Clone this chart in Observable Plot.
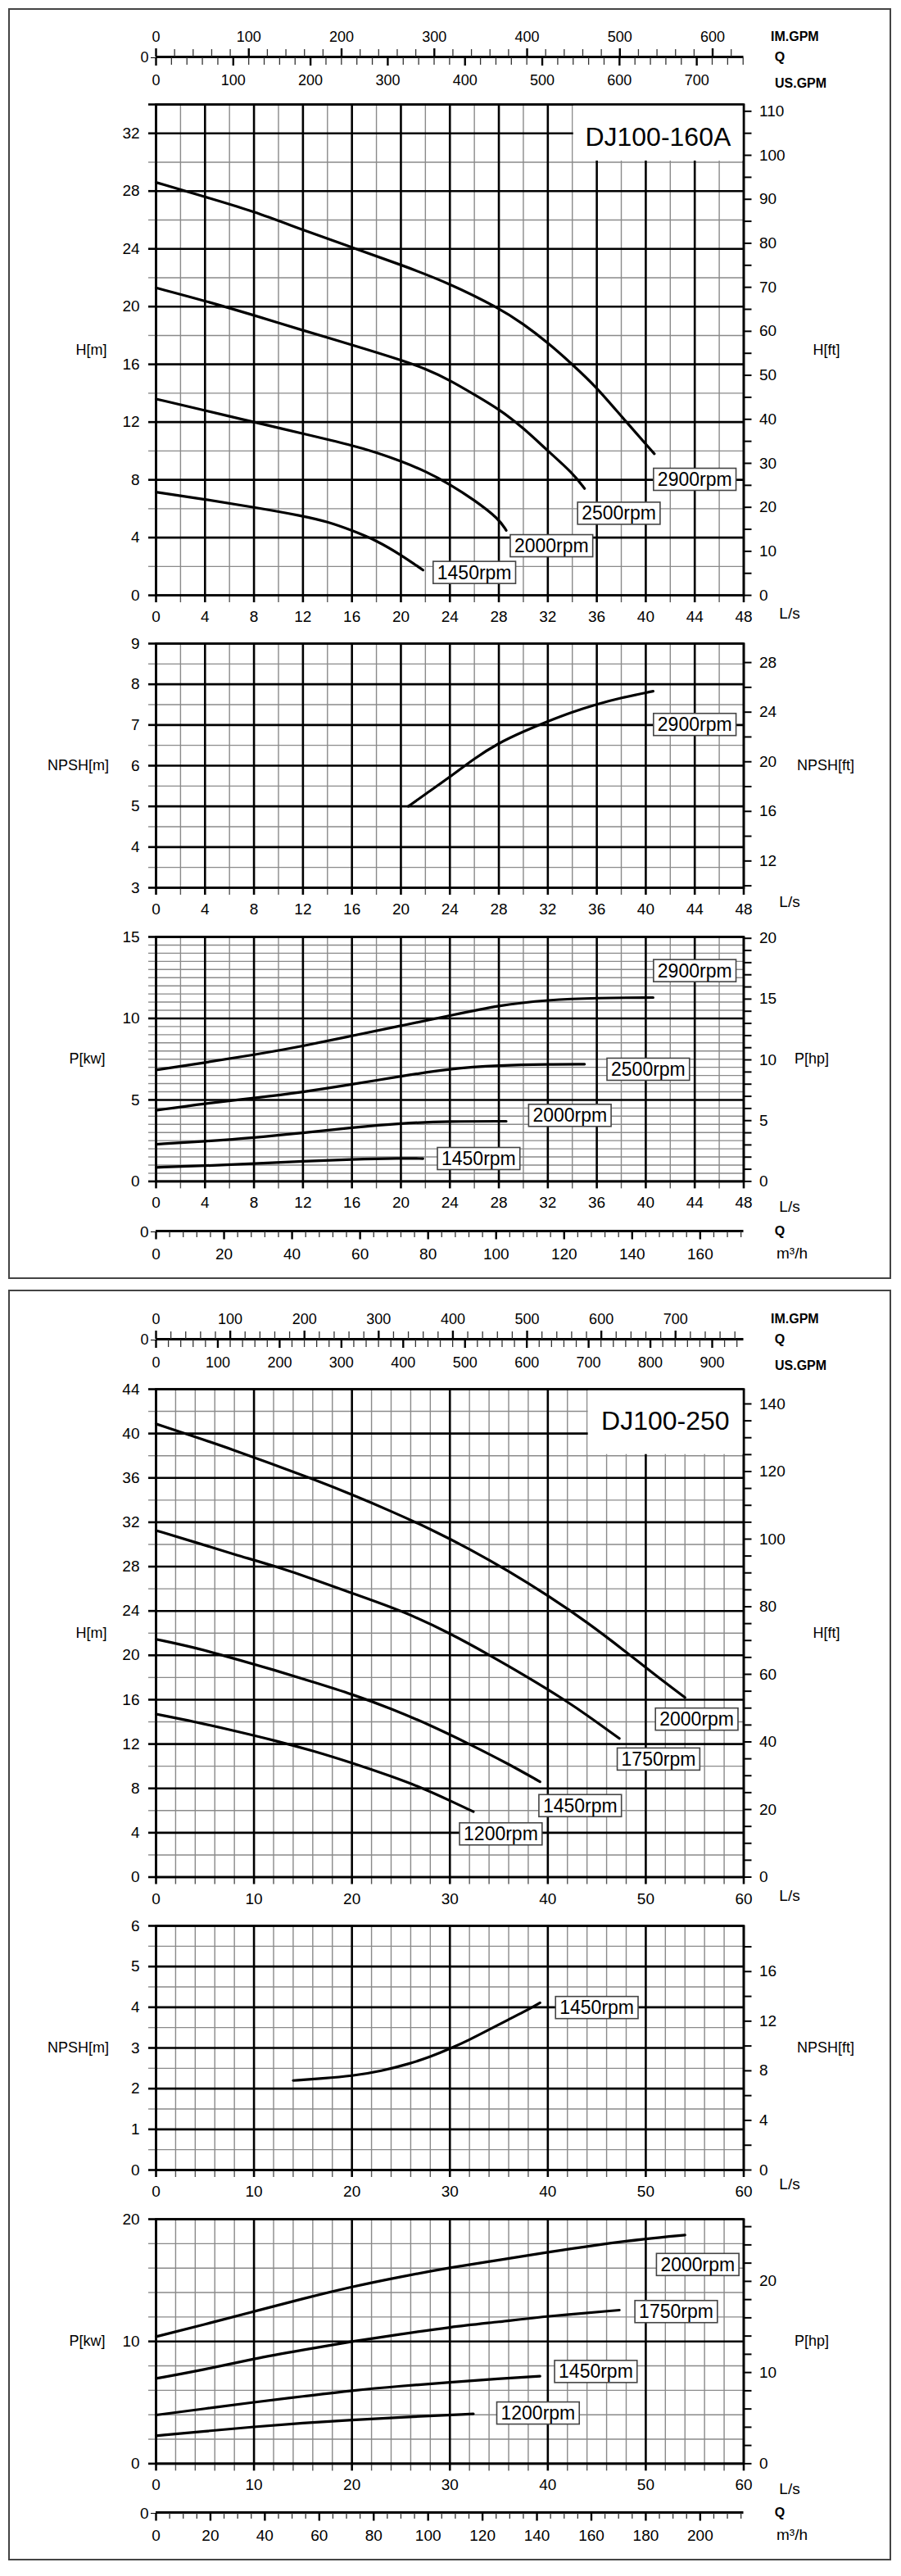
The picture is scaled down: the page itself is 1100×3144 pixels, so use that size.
<!DOCTYPE html>
<html><head><meta charset="utf-8">
<script src="https://cdn.jsdelivr.net/npm/d3@7"></script>
<script src="https://cdn.jsdelivr.net/npm/@observablehq/plot@0.6"></script>
<style>
html,body{margin:0;padding:0;background:#fff;}
#root{position:relative;width:1100px;height:3144px;overflow:hidden;background:#fff;}
.panel{position:absolute;border:2px solid #444;box-sizing:border-box;}
#root > svg{position:absolute;left:0;}
</style></head><body><div id="root"></div>
<script>
// ================= DATA : DJ100-160A =================
const A_title = "DJ100-160A";
const A_speeds = ["2900rpm", "2500rpm", "2000rpm", "1450rpm"];
// Head H[m] vs Q[L/s]
const A_head_2900 = [[0,28.6],[4,27.6],[8,26.6],[12,25.3],[16,24.1],[20,22.9],[24,21.6],[28,19.9],[30,18.8],[32,17.5],[34,16.0],[36,14.4],[38,12.4],[40.7,9.8]];
const A_head_2500 = [[0,21.3],[4,20.4],[8,19.4],[12,18.35],[16,17.35],[20,16.3],[22,15.7],[24,14.9],[26,13.9],[28,12.9],[30,11.6],[32,10.0],[34,8.5],[35,7.4]];
const A_head_2000 = [[0,13.6],[4,12.8],[8,12.0],[12,11.2],[16,10.4],[18,9.9],[20,9.3],[22,8.6],[24,7.7],[26,6.6],[28,5.3],[28.6,4.5]];
const A_head_1450 = [[0,7.15],[4,6.65],[8,6.1],[12,5.5],[14,5.1],[16,4.5],[18,3.8],[20,2.8],[21.8,1.75]];
// NPSH[m]
const A_npsh_2900 = [[20.6,5.0],[22,5.3],[24,5.72],[26,6.18],[28,6.56],[30,6.84],[32,7.09],[34,7.32],[36,7.51],[38,7.67],[40.6,7.83]];
// Power P[kW]
const A_pow_2900 = [[0,6.84],[4,7.29],[8,7.76],[12,8.30],[16,8.93],[20,9.55],[24,10.17],[28,10.81],[32,11.14],[36,11.26],[40.6,11.28]];
const A_pow_2500 = [[0,4.36],[4,4.78],[8,5.11],[12,5.48],[16,5.95],[20,6.45],[24,6.92],[28,7.12],[32,7.19],[35,7.19]];
const A_pow_2000 = [[0,2.28],[4,2.46],[8,2.68],[12,2.97],[16,3.30],[20,3.57],[24,3.69],[28.6,3.69]];
const A_pow_1450 = [[0,0.86],[4,0.96],[8,1.09],[12,1.24],[16,1.36],[20,1.42],[21.8,1.40]];
// ticks
const A_flowGrid = d3.range(0, 48.001, 2), A_flowLabels = d3.range(0, 48.001, 4);
const A_headGrid = d3.range(0, 34.001, 2), A_headLabels = d3.range(0, 32.001, 4);
const A_headFt = d3.range(0, 110.001, 5), A_headFtLabels = d3.range(0, 110.001, 10);
const A_npshGrid = d3.range(3, 9.001, 0.5), A_npshLabels = d3.range(3, 9.001, 1);
const A_npshFt = d3.range(10, 28.001, 2), A_npshFtLabels = [12, 16, 20, 24, 28];
const A_powGrid = d3.range(0, 15.001, 0.5), A_powLabels = [0, 5, 10, 15];
const A_powHp = d3.range(0, 20.001, 1), A_powHpLabels = [0, 5, 10, 15, 20];
const A_imgpm = d3.range(0, 633, 20), A_imgpmLabels = d3.range(0, 601, 100);
const A_usgpm = d3.range(0, 761, 20), A_usgpmLabels = d3.range(0, 701, 100);
const A_m3h = d3.range(0, 173, 4), A_m3hLabels = d3.range(0, 161, 20);

// ================= DATA : DJ100-250 =================
const B_title = "DJ100-250";
const B_speeds = ["2000rpm", "1750rpm", "1450rpm", "1200rpm"];
const B_head_2000 = [[0,40.87],[4,39.7],[8,38.5],[12,37.2],[16,35.9],[20,34.5],[24,33.0],[28,31.4],[32,29.6],[36,27.6],[40,25.4],[44,23.0],[48,20.3],[51,18.2],[54,16.2]];
const B_head_1750 = [[0,31.26],[4,30.2],[8,29.1],[12.3,28.0],[16,26.9],[20,25.6],[25.2,24.0],[30,22.0],[34.1,20.0],[38,18.0],[41.7,16.0],[44.5,14.3],[47.3,12.5]];
const B_head_1450 = [[0,21.45],[4,20.7],[8,19.7],[12,18.7],[16,17.6],[20,16.5],[24,15.2],[28,13.7],[32,12.0],[36,10.2],[39.2,8.6]];
const B_head_1200 = [[0,14.7],[4,14.0],[8,13.2],[12,12.35],[16,11.4],[20,10.3],[24,9.1],[27.3,8.0],[30,6.9],[32.4,5.9]];
const B_npsh_1450 = [[14,2.2],[17,2.25],[20,2.31],[23,2.43],[26,2.62],[28,2.78],[30,2.98],[32,3.2],[34,3.45],[36,3.7],[37.5,3.88],[39.2,4.11]];
const B_pow_2000 = [[0,10.39],[5,11.4],[10,12.45],[15,13.5],[20,14.48],[25,15.3],[30,16.04],[35,16.65],[40,17.3],[45,17.9],[50,18.4],[54,18.7]];
const B_pow_1750 = [[0,6.97],[5,7.7],[10,8.6],[15,9.3],[20,10.0],[25,10.6],[30,11.17],[35,11.6],[40,12.07],[47.3,12.56]];
const B_pow_1450 = [[0,3.98],[5,4.5],[10,5.03],[15,5.5],[20,5.99],[25,6.35],[30,6.66],[35,6.95],[39.2,7.15]];
const B_pow_1200 = [[0,2.28],[5,2.65],[10,3.02],[15,3.32],[20,3.58],[25,3.8],[32.4,4.07]];
const B_flowGrid = d3.range(0, 60.001, 2), B_flowLabels = d3.range(0, 60.001, 10);
const B_headGrid = d3.range(0, 44.001, 2), B_headLabels = d3.range(0, 44.001, 4);
const B_headFt = d3.range(0, 140.001, 5), B_headFtLabels = d3.range(0, 140.001, 20);
const B_npshGrid = d3.range(0, 6.001, 0.5), B_npshLabels = d3.range(0, 6.001, 1);
const B_npshFt = d3.range(0, 18.001, 2), B_npshFtLabels = [0, 4, 8, 12, 16];
const B_powGrid = d3.range(0, 20.001, 2), B_powLabels = [0, 10, 20];
const B_powHp = d3.range(0, 26.001, 2), B_powHpLabels = [0, 10, 20];
const B_imgpm = d3.range(0, 791, 20), B_imgpmLabels = d3.range(0, 701, 100);
const B_usgpm = d3.range(0, 951, 20), B_usgpmLabels = d3.range(0, 901, 100);
const B_m3h = d3.range(0, 216, 5), B_m3hLabels = d3.range(0, 201, 20);

// unit conversions
const LPS_PER_IMGPM = 0.0757682, LPS_PER_USGPM = 0.0630902, M_PER_FT = 0.3048, KW_PER_HP = 0.7457, M3H_PER_LPS = 3.6;

// ================= LAYOUT / STYLE =================
const W = 1100, X0 = 190, X1 = 907.5;
const FONT = "'Liberation Sans', Arial, Helvetica, sans-serif";
const THIN = {stroke: "#8a8a8a", strokeOpacity: 1, strokeWidth: 1.4};
const THICK = {stroke: "#000", strokeOpacity: 1, strokeWidth: 2.6};
const root = document.getElementById("root");
const baseStyle = {fontFamily: FONT, fontSize: "19px", background: "transparent", color: "#000", overflow: "visible"};

[[10, 1551], [1574, 1551]].forEach(([t, h]) => {
  const d = document.createElement("div");
  d.className = "panel";
  Object.assign(d.style, {left: "10px", top: t + "px", width: "1078px", height: h + "px"});
  root.append(d);
});

function boxLabels(svg) {
  svg.querySelectorAll("text").forEach(t => {
    if (!/rpm$/.test(t.textContent)) return;
    const bb = t.getBBox();
    const r = document.createElementNS("http://www.w3.org/2000/svg", "rect");
    r.setAttribute("x", bb.x - 5); r.setAttribute("y", bb.y - 0.5);
    r.setAttribute("width", bb.width + 10); r.setAttribute("height", bb.height + 1);
    r.setAttribute("fill", "#fff"); r.setAttribute("stroke", "#444"); r.setAttribute("stroke-width", 1.6);
    if (t.getAttribute("transform")) r.setAttribute("transform", t.getAttribute("transform"));
    t.parentNode.insertBefore(r, t);
  });
}

function pumpChart(c) {
  const mt = 30, mb = 46;
  const yThick = c.yGrid.filter(v => c.yLabels.includes(v) || v === c.yDom[0] || v === c.yDom[1]);
  const yThin = c.yGrid.filter(v => !yThick.includes(v));
  const xThick = c.xGrid.filter(v => c.xLabels.includes(v));
  const xThin = c.xGrid.filter(v => !xThick.includes(v));
  const fmtY = d => c.yLabels.includes(d) ? String(d) : "";
  const fmtX = d => c.xLabels.includes(d) ? String(d) : "";
  const marks = [
    Plot.gridX(xThin, THIN), Plot.gridY(yThin, THIN),
    Plot.gridX(xThick, THICK), Plot.gridY(yThick, THICK)
  ];
  if (c.box) marks.push(Plot.rect([c.box], {x1: d => d.x1, x2: d => d.x2, y1: d => d.y1, y2: d => d.y2, fill: "#fff", insetLeft: 1.5, insetBottom: 1.5}));
  marks.push(
    Plot.axisY(yThin, {anchor: "left", tickSize: 9, tickPadding: 11, stroke: "#8a8a8a", strokeWidth: 1.4, tickFormat: () => "", label: null}),
    Plot.axisY(yThick, {anchor: "left", tickSize: 9, tickPadding: 11, strokeWidth: 2.6, tickFormat: fmtY, label: null}),
    Plot.axisX(xThin, {anchor: "bottom", tickSize: 9, tickPadding: 10, stroke: "#555", strokeWidth: 1.4, tickFormat: () => "", label: null}),
    Plot.axisX(xThick, {anchor: "bottom", tickSize: 9, tickPadding: 10, strokeWidth: 2.6, tickFormat: fmtX, label: null}),
    Plot.axisY(c.rTicks.map(v => v * c.rUnit), {anchor: "right", tickSize: 9, tickPadding: 10, strokeWidth: 2,
      tickFormat: d => { const v = Math.round(d / c.rUnit * 1000) / 1000; return c.rLabels.includes(v) ? String(v) : ""; }, label: null}),
    Plot.frame({stroke: "#000", strokeWidth: 2.6}),
    ...c.curves.map(pts => Plot.line(pts, {x: d => d[0], y: d => d[1], curve: "basis", stroke: "#000", strokeWidth: 3.2})),
    Plot.text(c.labels, {x: d => d.x, y: d => d.y, text: d => d.text, fontSize: 23, fill: "#000"}),
    Plot.text([c.nameL], {frameAnchor: "left", textAnchor: "middle", lineAnchor: "middle", dx: c.dxL, text: d => d, fontSize: 18}),
    Plot.text([c.nameR], {frameAnchor: "right", textAnchor: "middle", lineAnchor: "middle", dx: c.dxR, text: d => d, fontSize: 18}),
    Plot.text(["L/s"], {frameAnchor: "bottom-right", textAnchor: "middle", lineAnchor: "middle", dx: 56, dy: c.lsDy, text: d => d, fontSize: 19})
  );
  if (c.title) marks.push(Plot.text([c.title], {x: d => d.x, y: d => d.y, text: d => d.text, fontSize: 32, fill: "#000"}));
  const svg = Plot.plot({
    width: W, height: (c.bottom - c.top) + mt + mb,
    marginLeft: X0, marginRight: W - X1, marginTop: mt, marginBottom: mb,
    x: {domain: [0, c.xMax]}, y: {domain: c.yDom},
    style: baseStyle, marks
  });
  svg.style.top = (c.top - mt) + "px";
  root.append(svg);
  boxLabels(svg);
}

function flowTop(c) {
  const mt = 40, mb = 44;
  const im = c.im.filter(v => !c.imL.includes(v)), us = c.us.filter(v => !c.usL.includes(v));
  const svg = Plot.plot({
    width: W, height: mt + 2 + mb, marginLeft: X0, marginRight: W - X1, marginTop: mt, marginBottom: mb,
    x: {domain: [0, c.xMax]}, y: {domain: [0, 1]}, style: {...baseStyle, fontSize: "18px"},
    marks: [
      Plot.ruleY([0.5], {stroke: "#000", strokeWidth: 3}),
      Plot.axisX(im.map(v => v * LPS_PER_IMGPM), {anchor: "top", tickSize: 9, stroke: "#333", strokeWidth: 1.3, tickFormat: () => "", label: null}),
      Plot.axisX(c.imL.map(v => v * LPS_PER_IMGPM), {anchor: "top", tickSize: 10, tickPadding: 8, strokeWidth: 2.4, tickFormat: d => String(Math.round(d / LPS_PER_IMGPM)), label: null}),
      Plot.axisX(us.map(v => v * LPS_PER_USGPM), {anchor: "bottom", tickSize: 9, stroke: "#333", strokeWidth: 1.3, tickFormat: () => "", label: null}),
      Plot.axisX(c.usL.map(v => v * LPS_PER_USGPM), {anchor: "bottom", tickSize: 10, tickPadding: 11, strokeWidth: 2.4, tickFormat: d => String(Math.round(d / LPS_PER_USGPM)), label: null}),
      Plot.text(["IM.GPM"], {frameAnchor: "top-right", textAnchor: "start", lineAnchor: "middle", dx: 33, dy: -24, text: d => d, fontSize: 16, fontWeight: "bold"}),
      Plot.text(["Q"], {frameAnchor: "right", textAnchor: "middle", lineAnchor: "middle", dx: 44, text: d => d, fontSize: 16, fontWeight: "bold"}),
      Plot.text(["US.GPM"], {frameAnchor: "bottom-right", textAnchor: "start", lineAnchor: "middle", dx: 38, dy: 31, text: d => d, fontSize: 16, fontWeight: "bold"})
    ]
  });
  svg.style.top = (c.lineY - mt - 1) + "px";
  root.append(svg);
}

function flowBottom(c) {
  const mt = 20, mb = 46;
  const minor = c.m3h.filter(v => !c.m3hL.includes(v));
  const svg = Plot.plot({
    width: W, height: mt + 2 + mb, marginLeft: X0, marginRight: W - X1, marginTop: mt, marginBottom: mb,
    x: {domain: [0, c.xMax]}, y: {domain: [0, 1]}, style: baseStyle,
    marks: [
      Plot.ruleY([0.5], {stroke: "#000", strokeWidth: 3}),
      Plot.axisX(minor.map(v => v / M3H_PER_LPS), {anchor: "bottom", tickSize: 7, stroke: "#333", strokeWidth: 1.3, tickFormat: () => "", label: null}),
      Plot.axisX(c.m3hL.map(v => v / M3H_PER_LPS), {anchor: "bottom", tickSize: 9.5, tickPadding: 10, strokeWidth: 2.4, tickFormat: d => String(Math.round(d * M3H_PER_LPS)), label: null}),
      Plot.text(["Q"], {frameAnchor: "right", textAnchor: "middle", lineAnchor: "middle", dx: 44, text: d => d, fontSize: 16, fontWeight: "bold"}),
      Plot.text(["m³/h"], {frameAnchor: "bottom-right", textAnchor: "middle", lineAnchor: "middle", dx: 59, dy: 26, text: d => d, fontSize: 19})
    ]
  });
  svg.style.top = (c.lineY - mt - 1) + "px";
  root.append(svg);
}

const lab = (speeds, pos) => speeds.map((s, i) => pos[i] ? {text: s, x: pos[i][0], y: pos[i][1]} : null).filter(Boolean);

// ---------- Panel A ----------
flowTop({lineY: 69.3, xMax: 48, im: A_imgpm, imL: A_imgpmLabels, us: A_usgpm, usL: A_usgpmLabels});
pumpChart({top: 127.3, bottom: 726.4, xMax: 48, xGrid: A_flowGrid, xLabels: A_flowLabels,
  yDom: [0, 34], yGrid: A_headGrid, yLabels: A_headLabels, rTicks: A_headFt, rLabels: A_headFtLabels, rUnit: M_PER_FT,
  curves: [A_head_2900, A_head_2500, A_head_2000, A_head_1450],
  labels: lab(A_speeds, [[44, 8.0], [37.8, 5.65], [32.3, 3.4], [26.0, 1.55]]),
  title: {text: A_title, x: 41, y: 31.7}, box: {x1: 34, x2: 48, y1: 30, y2: 34},
  nameL: "H[m]", nameR: "H[ft]", dxL: -79, dxR: 101, lsDy: 22});
pumpChart({top: 785.3, bottom: 1083.3, xMax: 48, xGrid: A_flowGrid, xLabels: A_flowLabels,
  yDom: [3, 9], yGrid: A_npshGrid, yLabels: A_npshLabels, rTicks: A_npshFt, rLabels: A_npshFtLabels, rUnit: M_PER_FT,
  curves: [A_npsh_2900], labels: lab(A_speeds, [[44, 7.0]]),
  nameL: "NPSH[m]", nameR: "NPSH[ft]", dxL: -95, dxR: 100, lsDy: 17});
pumpChart({top: 1143.3, bottom: 1441.7, xMax: 48, xGrid: A_flowGrid, xLabels: A_flowLabels,
  yDom: [0, 15], yGrid: A_powGrid, yLabels: A_powLabels, rTicks: A_powHp, rLabels: A_powHpLabels, rUnit: KW_PER_HP,
  curves: [A_pow_2900, A_pow_2500, A_pow_2000, A_pow_1450],
  labels: lab(A_speeds, [[44, 12.9], [40.2, 6.85], [33.8, 4.02], [26.35, 1.37]]),
  nameL: "P[kw]", nameR: "P[hp]", dxL: -84, dxR: 83, lsDy: 31});
flowBottom({lineY: 1501.7, xMax: 48, m3h: A_m3h, m3hL: A_m3hLabels});

// ---------- Panel B ----------
flowTop({lineY: 1634.3, xMax: 60, im: B_imgpm, imL: B_imgpmLabels, us: B_usgpm, usL: B_usgpmLabels});
pumpChart({top: 1694.5, bottom: 2290, xMax: 60, xGrid: B_flowGrid, xLabels: B_flowLabels,
  yDom: [0, 44], yGrid: B_headGrid, yLabels: B_headLabels, rTicks: B_headFt, rLabels: B_headFtLabels, rUnit: M_PER_FT,
  curves: [B_head_2000, B_head_1750, B_head_1450, B_head_1200],
  labels: lab(B_speeds, [[55.2, 14.2], [51.3, 10.6], [43.3, 6.4], [35.2, 3.85]]),
  title: {text: B_title, x: 52, y: 41.1}, box: {x1: 44, x2: 60, y1: 38, y2: 44},
  nameL: "H[m]", nameR: "H[ft]", dxL: -79, dxR: 101, lsDy: 23});
pumpChart({top: 2350, bottom: 2648, xMax: 60, xGrid: B_flowGrid, xLabels: B_flowLabels,
  yDom: [0, 6], yGrid: B_npshGrid, yLabels: B_npshLabels, rTicks: B_npshFt, rLabels: B_npshFtLabels, rUnit: M_PER_FT,
  curves: [B_npsh_1450], labels: lab(["1450rpm"], [[45.0, 3.98]]),
  nameL: "NPSH[m]", nameR: "NPSH[ft]", dxL: -95, dxR: 100, lsDy: 17});
pumpChart({top: 2708.3, bottom: 3006.7, xMax: 60, xGrid: B_flowGrid, xLabels: B_flowLabels,
  yDom: [0, 20], yGrid: B_powGrid, yLabels: B_powLabels, rTicks: B_powHp, rLabels: B_powHpLabels, rUnit: KW_PER_HP,
  curves: [B_pow_2000, B_pow_1750, B_pow_1450, B_pow_1200],
  labels: lab(B_speeds, [[55.3, 16.25], [53.1, 12.4], [44.9, 7.5], [39.0, 4.1]]),
  nameL: "P[kw]", nameR: "P[hp]", dxL: -84, dxR: 83, lsDy: 31});
flowBottom({lineY: 3066, xMax: 60, m3h: B_m3h, m3hL: B_m3hLabels});
</script></body></html>
